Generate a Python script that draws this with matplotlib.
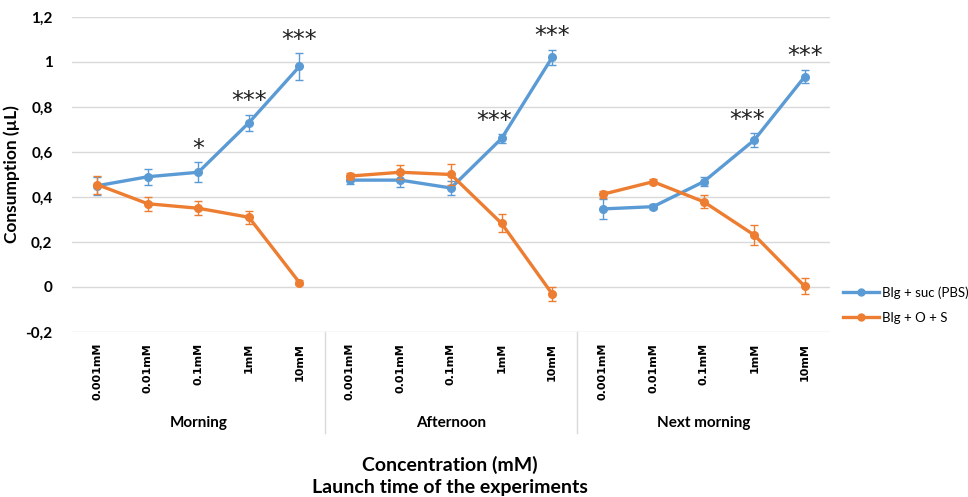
import numpy as np
from matplotlib import pyplot as plt
from matplotlib.lines import Line2D
import matplotlib.transforms as mtransforms

plt.rcParams['font.family'] = ['Lato', 'DejaVu Sans']

groups = ['Morning', 'Afternoon', 'Next morning']
concs = ['0.001mM', '0.01mM', '0.1mM', '1mM', '10mM']

suc = [[0.45, 0.49, 0.51, 0.73, 0.98],
       [0.475, 0.475, 0.44, 0.66, 1.02],
       [0.347, 0.357, 0.468, 0.653, 0.935]]
suc_err = [[0.04, 0.035, 0.045, 0.035, 0.06],
           [0.015, 0.03, 0.03, 0.02, 0.035],
           [0.045, 0.01, 0.02, 0.03, 0.03]]
oss = [[0.455, 0.37, 0.35, 0.31, 0.02],
       [0.493, 0.51, 0.50, 0.283, -0.03],
       [0.412, 0.468, 0.379, 0.231, 0.003]]
oss_err = [[0.04, 0.03, 0.03, 0.03, 0.01],
           [0.015, 0.03, 0.045, 0.04, 0.03],
           [0.015, 0.01, 0.03, 0.045, 0.035]]
stars = [['', '', '*', '***', '***'],
         ['', '', '', '***', '***'],
         ['', '', '', '***', '***']]

blue = '#5B9BD5'
orange = '#ED7D31'

fig = plt.figure(figsize=(9.68, 4.97), dpi=100)
ax = fig.add_axes([72/968, 165/497, 758/968, 315/497])

n = len(concs)
for g in range(len(groups)):
    x = np.arange(n) + g*n
    ax.errorbar(x, suc[g], yerr=suc_err[g], color=blue, lw=2.4, marker='o', ms=5.5,
                capsize=3, elinewidth=1, ecolor=blue, capthick=1, zorder=3)
    ax.errorbar(x, oss[g], yerr=oss_err[g], color=orange, lw=2.4, marker='o', ms=5.5,
                capsize=3, elinewidth=1, ecolor=orange, capthick=1, zorder=4)
    for i in range(n):
        if stars[g][i]:
            s = stars[g][i]
            ax.annotate(s, (x[i], suc[g][i] + suc_err[g][i]),
                        xytext=(-5 if len(s) > 1 and g > 0 and i == 3 else 0, 1),
                        textcoords='offset points', ha='center', va='bottom',
                        fontsize=17, family='DejaVu Sans', color='#222222')

ax.set_ylim(-0.2, 1.2)
ax.set_xlim(-0.5, len(groups)*n - 0.5)
yt = np.round(np.arange(-0.2, 1.21, 0.2), 1)
ax.set_yticks(yt)
ax.set_yticklabels([('%g' % v).replace('.', ',') for v in yt],
                   fontsize=11, fontweight='bold')
ax.yaxis.grid(True, color='#d9d9d9', lw=1)
ax.set_axisbelow(True)
for sp in ax.spines.values():
    sp.set_visible(False)
ax.tick_params(axis='y', length=0, pad=14)
ax.tick_params(axis='x', length=0, pad=8)

ax.set_xticks(np.arange(len(groups)*n))
ax.set_xticklabels(concs*len(groups), rotation=90, fontsize=8, fontweight='bold',
                   family='DejaVu Sans', va='top')

trans = mtransforms.blended_transform_factory(ax.transData, ax.transAxes)
for g in range(len(groups)):
    ax.text(g*n + (n - 1)/2, -0.29, groups[g], transform=trans, ha='center', va='center',
            fontsize=11, fontweight='bold')
    if g > 0:
        ax.plot([g*n - 0.5, g*n - 0.5], [0, -0.32], transform=trans, color='#d9d9d9',
                lw=1, clip_on=False)

ax.set_ylabel('Consumption (µL)', fontsize=12.5, fontweight='bold')
ax.yaxis.set_label_coords(-52/758, 0.5)
fig.text(450/968, 1 - 465/497, 'Concentration (mM)', ha='center', va='center',
         fontsize=14, fontweight='bold')
fig.text(450/968, 1 - 488/497, 'Launch time of the experiments', ha='center', va='center',
         fontsize=14, fontweight='bold')

handles = [Line2D([], [], color=blue, lw=2.4, marker='o', ms=5),
           Line2D([], [], color=orange, lw=2.4, marker='o', ms=5)]
fig.legend(handles, ['Blg + suc (PBS)', 'Blg + O + S'], loc='center left',
           bbox_to_anchor=(834/968, 1 - 305/497), frameon=False, fontsize=9.5,
           handlelength=2.7, labelspacing=0.95, handletextpad=0.2, borderpad=0.2)

fig.savefig('out.png', dpi=100)
